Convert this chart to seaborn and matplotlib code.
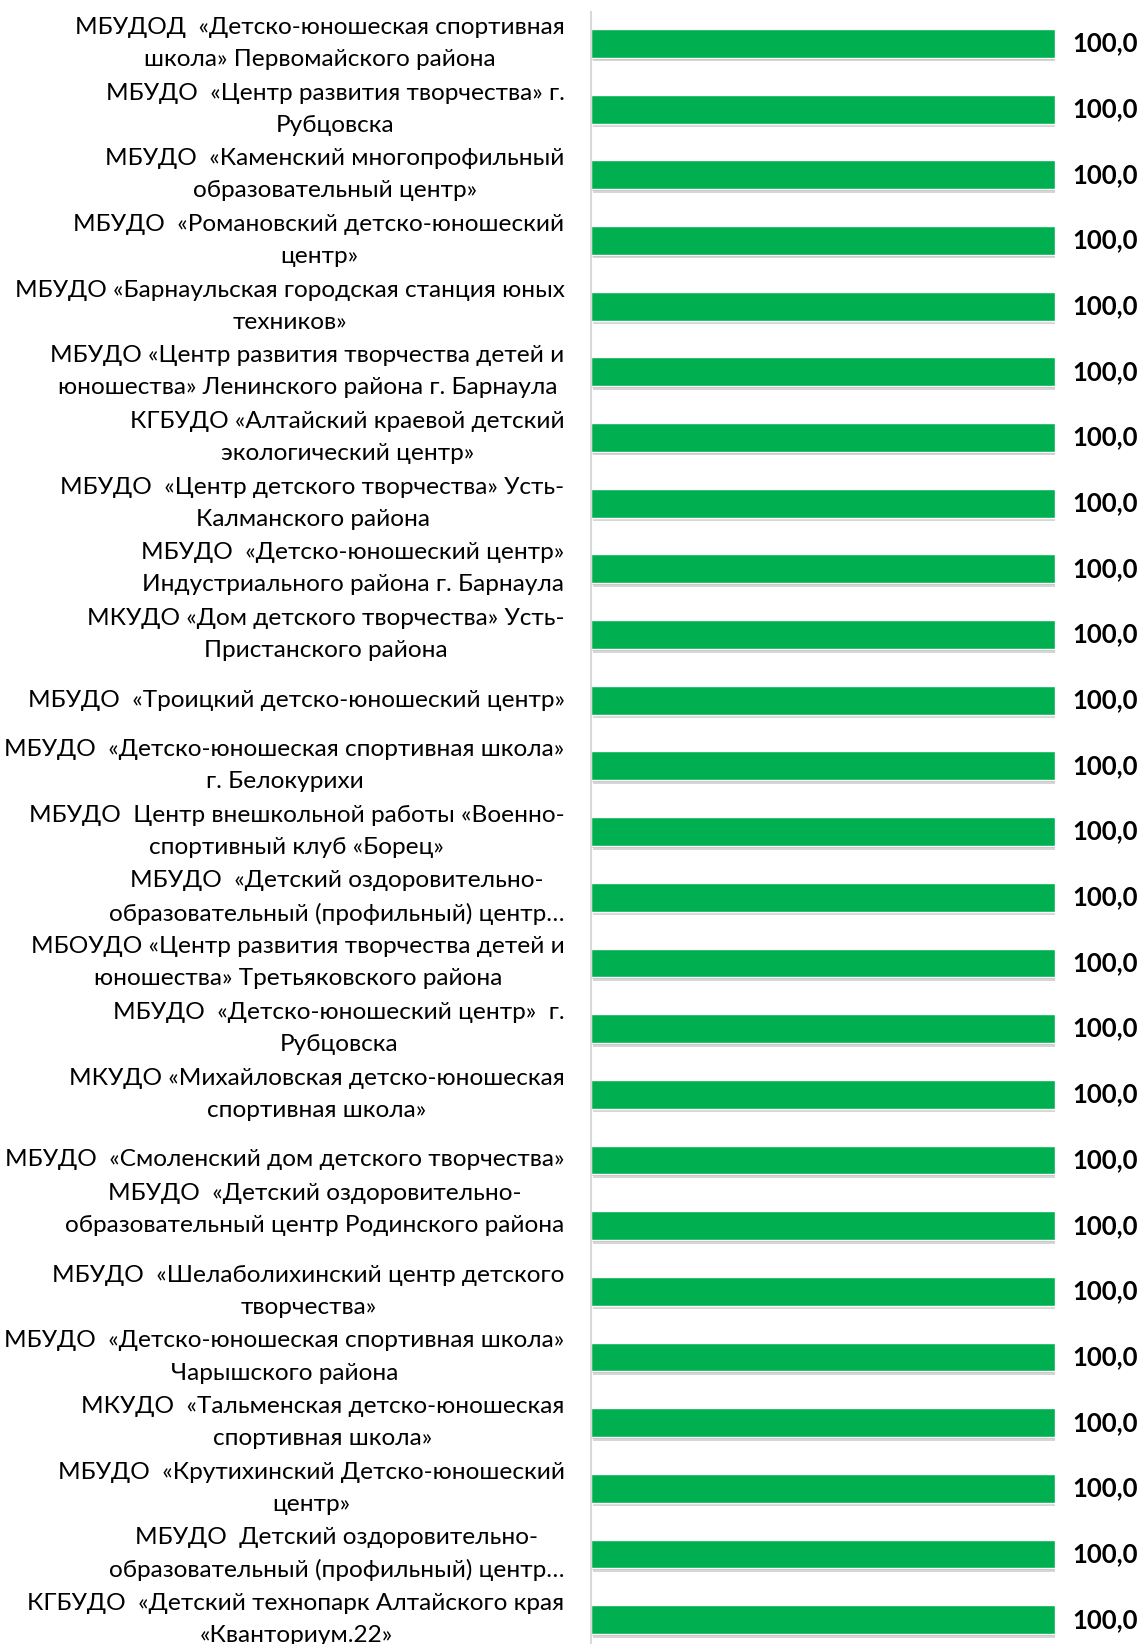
import numpy as np
import pandas as pd
import matplotlib
matplotlib.use('Agg')
import matplotlib.pyplot as plt
import matplotlib.patheffects as pe
import matplotlib.transforms as mtransforms
import seaborn as sns

# labels and values
organizations = [
    "МБУДОД  «Детско-юношеская спортивная\nшкола» Первомайского района",
    "МБУДО  «Центр развития творчества» г.\nРубцовска",
    "МБУДО  «Каменский многопрофильный\nобразовательный центр»",
    "МБУДО  «Романовский детско-юношеский\nцентр»",
    "МБУДО «Барнаульская городская станция юных\nтехников»",
    "МБУДО «Центр развития творчества детей и\nюношества» Ленинского района г. Барнаула",
    "КГБУДО «Алтайский краевой детский\nэкологический центр»",
    "МБУДО  «Центр детского творчества» Усть-\nКалманского района",
    "МБУДО  «Детско-юношеский центр»\nИндустриального района г. Барнаула",
    "МКУДО «Дом детского творчества» Усть-\nПристанского района",
    "МБУДО  «Троицкий детско-юношеский центр»",
    "МБУДО  «Детско-юношеская спортивная школа»\nг. Белокурихи",
    "МБУДО  Центр внешкольной работы «Военно-\nспортивный клуб «Борец»",
    "МБУДО  «Детский оздоровительно-\nобразовательный (профильный) центр…",
    "МБОУДО «Центр развития творчества детей и\nюношества» Третьяковского района",
    "МБУДО  «Детско-юношеский центр»  г.\nРубцовска",
    "МКУДО «Михайловская детско-юношеская\nспортивная школа»",
    "МБУДО  «Смоленский дом детского творчества»",
    "МБУДО  «Детский оздоровительно-\nобразовательный центр Родинского района\n",
    "МБУДО  «Шелаболихинский центр детского\nтворчества»",
    "МБУДО  «Детско-юношеская спортивная школа»\nЧарышского района",
    "МКУДО  «Тальменская детско-юношеская\nспортивная школа»",
    "МБУДО  «Крутихинский Детско-юношеский\nцентр»",
    "МБУДО  Детский оздоровительно-\nобразовательный (профильный) центр…",
    "КГБУДО  «Детский технопарк Алтайского края\n«Кванториум.22»",
]
scores = [100.0, 100.0, 100.0, 100.0, 100.0, 100.0, 100.0, 100.0, 100.0, 100.0,
          100.0, 100.0, 100.0, 100.0, 100.0, 100.0, 100.0, 100.0, 100.0, 100.0,
          100.0, 100.0, 100.0, 100.0, 100.0]

df = pd.DataFrame({'org': organizations, 'score': scores})

sns.set_style('white')
plt.rcParams['font.family'] = ['Lato', 'DejaVu Sans']

fig = plt.figure(figsize=(11.42, 16.44), dpi=100)
ax = fig.add_axes([591 / 1142, 0, (1055 - 591) / 1142, (1644 - 12) / 1644])

sns.barplot(data=df, y='org', x='score', orient='h', color='#00B050',
            saturation=1, width=0.44, ax=ax)

# soft drop shadow like the original
for bar in ax.patches:
    bar.set_path_effects([pe.SimplePatchShadow(offset=(1.5, -2.5), shadow_rgbFace='#8c8c8c', alpha=0.35),
                          pe.SimplePatchShadow(offset=(0.8, -1.2), shadow_rgbFace='#8c8c8c', alpha=0.3),
                          pe.Normal()])

offset = mtransforms.ScaledTranslation(17 / 100, 0, fig.dpi_scale_trans)
for i, v in enumerate(df['score']):
    ax.text(v, i, f"{v:.1f}".replace('.', ','), ha='left', va='center',
            fontsize=18.5, fontweight='bold', color='black', clip_on=False,
            transform=ax.transData + offset)

ax.set_xlim(0, 100)
ax.set_ylim(24.37, -0.48)
ax.set_xlabel('')
ax.set_ylabel('')
ax.set_xticks([])
ax.set_yticks(range(len(organizations)), organizations, multialignment='center',
              va='center', linespacing=1.65, fontsize=17.6, color='black')
for s in ['top', 'right', 'bottom']:
    ax.spines[s].set_visible(False)
ax.spines['left'].set_color('#d9d9d9')
ax.spines['left'].set_linewidth(1.5)
ax.tick_params(axis='y', length=0, pad=19)

fig.savefig('out.png', dpi=100)
